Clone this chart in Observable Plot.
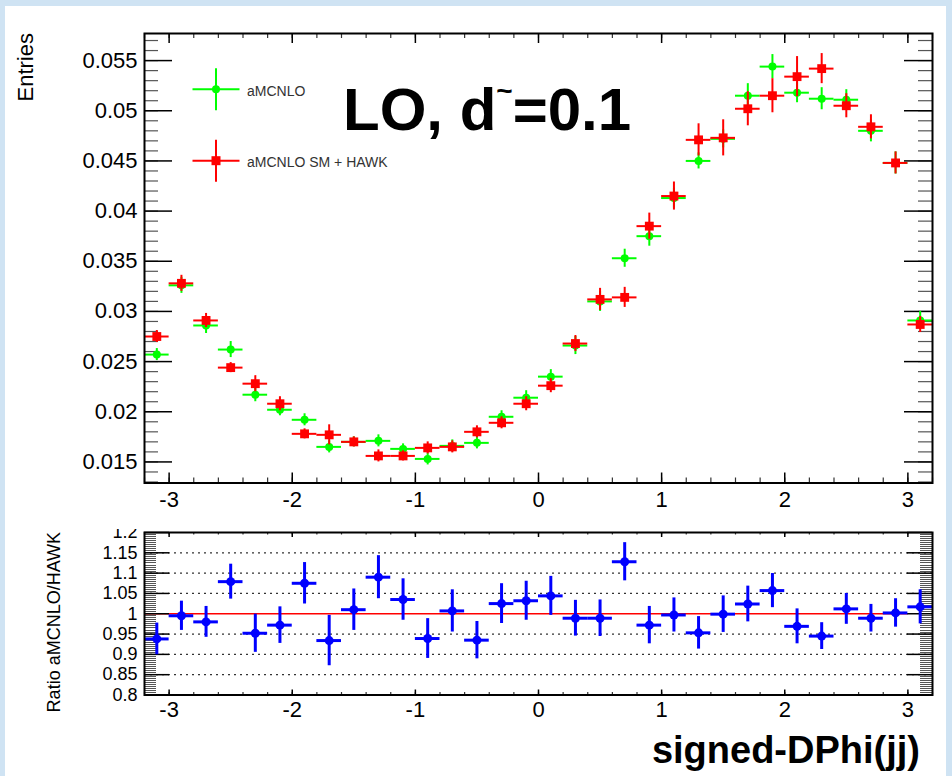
<!DOCTYPE html>
<html>
<head>
<meta charset="utf-8">
<script src="https://cdn.jsdelivr.net/npm/d3@7"></script>
<script src="https://cdn.jsdelivr.net/npm/@observablehq/plot@0.6"></script>
<style>
  html, body { margin: 0; padding: 0; background: #ffffff; }
  #canvas { position: relative; width: 952px; height: 776px; background: #cfe3f3; overflow: hidden;
            font-family: "Liberation Sans", Arial, Helvetica, sans-serif; }
  #pad { position: absolute; left: 5px; top: 6px; width: 941px; height: 770px; background: #ffffff; }
  #upper, #lower { position: absolute; left: 0; }
  #upper { top: 0; }
  #lower { top: 523px; }
  svg { overflow: hidden; }
</style>
</head>
<body>
<div id="canvas"><div id="pad"><div id="upper"></div><div id="lower"></div></div></div>
<script>
// signed Δφ(jj) bin centres (32 bins of width 0.2 between -3.2 and 3.2)
const binCenters = [-3.1, -2.9, -2.7, -2.5, -2.3, -2.1, -1.9, -1.7, -1.5, -1.3, -1.1, -0.9, -0.7, -0.5, -0.3, -0.1,
                     0.1, 0.3, 0.5, 0.7, 0.9, 1.1, 1.3, 1.5, 1.7, 1.9, 2.1, 2.3, 2.5, 2.7, 2.9, 3.1];
const binHalfWidth = 0.1;

// aMCNLO (normalised entries) and statistical errors
const amcnlo = [0.0257, 0.0326, 0.0286, 0.0262, 0.0217, 0.0202, 0.0192, 0.0165, 0.0170, 0.0171, 0.0163, 0.0153,
                0.0166, 0.0169, 0.0195, 0.0214, 0.0235, 0.0266, 0.0310, 0.0353, 0.0375, 0.0413, 0.0450, 0.0472,
                0.0515, 0.0544, 0.0518, 0.0512, 0.0511, 0.0480, 0.0448, 0.0291];
const amcnloErr = [0.0006, 0.0008, 0.0008, 0.0008, 0.0007, 0.0006, 0.0006, 0.0006, 0.0005, 0.0006, 0.0005, 0.0006,
                   0.0006, 0.0006, 0.0006, 0.0007, 0.0007, 0.0009, 0.0010, 0.0009, 0.0010, 0.0010, 0.0008, 0.0009,
                   0.0012, 0.0012, 0.0010, 0.0011, 0.0010, 0.0011, 0.0011, 0.0009];

// aMCNLO SM + HAWK (normalised entries) and statistical errors
const hawk = [0.0275, 0.0328, 0.0291, 0.0244, 0.0228, 0.0208, 0.0178, 0.0177, 0.0170, 0.0156, 0.0156, 0.0164,
              0.0165, 0.0180, 0.0189, 0.0208, 0.0226, 0.0268, 0.0312, 0.0314, 0.0385, 0.0415, 0.0471, 0.0473,
              0.0502, 0.0515, 0.0534, 0.0542, 0.0505, 0.0484, 0.0448, 0.0287];
const hawkErr = [0.0006, 0.0008, 0.0007, 0.0005, 0.0008, 0.0007, 0.0005, 0.0010, 0.0005, 0.0006, 0.0005, 0.0006,
                 0.0006, 0.0006, 0.0006, 0.0007, 0.0007, 0.0008, 0.0011, 0.0010, 0.0013, 0.0014, 0.0016, 0.0018,
                 0.0017, 0.0017, 0.0020, 0.0015, 0.0012, 0.0012, 0.0011, 0.0008];

// ratio aMCNLO / HAWK with errors
const ratio = [0.938, 0.995, 0.980, 1.079, 0.952, 0.972, 1.075, 0.934, 1.010, 1.090, 1.035, 0.939, 1.007, 0.935,
               1.025, 1.032, 1.044, 0.989, 0.989, 1.128, 0.972, 0.997, 0.953, 0.999, 1.024, 1.057, 0.969, 0.945,
               1.012, 0.989, 1.002, 1.017];
const ratioErr = [0.039, 0.036, 0.038, 0.043, 0.047, 0.045, 0.051, 0.062, 0.051, 0.053, 0.051, 0.049, 0.052, 0.046,
                  0.049, 0.048, 0.048, 0.044, 0.045, 0.047, 0.046, 0.042, 0.040, 0.045, 0.044, 0.042, 0.043, 0.033,
                  0.038, 0.034, 0.035, 0.042];

// axis ticks and labels
const xDomain = [-3.2, 3.2];
const xTicks = [-3, -2, -1, 0, 1, 2, 3];
const yTicksUpper = [0.015, 0.02, 0.025, 0.03, 0.035, 0.04, 0.045, 0.05, 0.055];
const yDomainUpper = [0.0129, 0.0577];
const yTicksRatio = [0.8, 0.85, 0.9, 0.95, 1, 1.05, 1.1, 1.15, 1.2];
const yDomainRatio = [0.8, 1.2];
const ratioGrid = [0.85, 0.9, 0.95, 1.05, 1.1, 1.15];
const ratioRefLine = [{y: 1, x1: -3.2, x2: 3.0}];

const legendEntries = [
  {label: "aMCNLO", color: "#00ff00", shape: "circle"},
  {label: "aMCNLO SM + HAWK", color: "#ff0000", shape: "square"}
];
const titleMain = "LO, d";
const titleTilde = "~";
const titleTail = "=0.1";
const yTitleUpper = "Entries";
const yTitleRatio = "Ratio aMCNLO/HAWK";
const xTitle = "signed-DPhi(jj)";

const rows = binCenters.map((c, i) => ({
  c, g: amcnlo[i], ge: amcnloErr[i], r: hawk[i], re: hawkErr[i], q: ratio[i], qe: ratioErr[i]
}));

const FONT = '"Liberation Sans", Arial, Helvetica, sans-serif';
const W = 941, mL = 139, mR = 14;
const FW = W - mL - mR;

// minor tick positions
const xMinor = d3.range(-32, 33, 2).map(k => k / 10);
const yMinorUpper = d3.range(13, 58).map(k => k / 1000);
const yMinorRatio = d3.range(160, 241).map(k => k / 200);

function frameTicks(FH, xMaj, xMin, yMaj, yMin, xMajor, xMinorT, yMajor, yMinorT, minorStyle) {
  const id = d => d;
  return [
    Plot.tickX(xMin, {x: id, insetTop: FH - xMinorT, stroke: "#333", strokeWidth: 1.2}),
    Plot.tickX(xMin, {x: id, insetBottom: FH - xMinorT, stroke: "#333", strokeWidth: 1.2}),
    Plot.tickX(xMaj, {x: id, insetTop: FH - xMajor, stroke: "#000", strokeWidth: 1.5}),
    Plot.tickX(xMaj, {x: id, insetBottom: FH - xMajor, stroke: "#000", strokeWidth: 1.5}),
    Plot.tickY(yMin, {y: id, insetRight: FW - yMinorT, ...minorStyle}),
    Plot.tickY(yMin, {y: id, insetLeft: FW - yMinorT, ...minorStyle}),
    Plot.tickY(yMaj, {y: id, insetRight: FW - yMajor, stroke: "#000", strokeWidth: 1.5}),
    Plot.tickY(yMaj, {y: id, insetLeft: FW - yMajor, stroke: "#000", strokeWidth: 1.5})
  ];
}

function errorCross(field, errField, color, width) {
  return [
    Plot.ruleY(rows, {y: field, x1: d => d.c - binHalfWidth, x2: d => d.c + binHalfWidth, stroke: color, strokeWidth: width}),
    Plot.ruleX(rows, {x: "c", y1: d => d[field] - d[errField], y2: d => d[field] + d[errField], stroke: color, strokeWidth: width})
  ];
}

// ---------- upper panel: distributions ----------
const H1 = 523, mT1 = 27, mB1 = 46.5;
const FH1 = H1 - mT1 - mB1;
const upper = Plot.plot({
  width: W, height: H1,
  marginLeft: mL, marginRight: mR, marginTop: mT1, marginBottom: mB1,
  style: {background: "white", color: "black", fontFamily: FONT, overflow: "hidden"},
  x: {domain: xDomain},
  y: {domain: yDomainUpper},
  marks: [
    ...frameTicks(FH1, xTicks, xMinor, yTicksUpper, yMinorUpper, 10, 5, 28, 14, {stroke: "#555", strokeWidth: 1.2}),
    Plot.axisX(xTicks, {anchor: "bottom", tickSize: 0, tickPadding: 8, fontSize: 22, tickFormat: d => String(d), label: null}),
    Plot.axisY(yTicksUpper, {anchor: "left", tickSize: 0, tickPadding: 7, fontSize: 22, tickFormat: d => String(d), label: null}),
    ...errorCross("g", "ge", "#00ff00", 2),
    Plot.dot(rows, {x: "c", y: "g", r: 4, fill: "#00ff00"}),
    ...errorCross("r", "re", "#ff0000", 2),
    Plot.dot(rows, {x: "c", y: "r", r: 5, symbol: "square", fill: "#ff0000"}),
    Plot.frame({stroke: "black", strokeWidth: 2})
  ]
});
document.getElementById("upper").appendChild(upper);

{
  const svg = d3.select(upper);
  // y-axis title
  svg.append("text").attr("transform", "translate(28,27) rotate(-90)")
    .attr("text-anchor", "end").attr("font-family", FONT).attr("font-size", 22)
    .attr("fill", "black").text(yTitleUpper);
  // legend
  const lg = svg.append("g").attr("text-anchor", "start");
  legendEntries.forEach((e, i) => {
    const cx = 211, cy = 83.3 + i * 71.4;
    lg.append("line").attr("x1", cx - 23.5).attr("x2", cx + 23.5).attr("y1", cy).attr("y2", cy)
      .attr("stroke", e.color).attr("stroke-width", 2);
    lg.append("line").attr("x1", cx).attr("x2", cx).attr("y1", cy - 21).attr("y2", cy + 21)
      .attr("stroke", e.color).attr("stroke-width", 2);
    if (e.shape === "circle") lg.append("circle").attr("cx", cx).attr("cy", cy).attr("r", 4).attr("fill", e.color);
    else lg.append("rect").attr("x", cx - 4.5).attr("y", cy - 4.5).attr("width", 9).attr("height", 9).attr("fill", e.color);
    lg.append("text").attr("x", 242).attr("y", cy + 6.5).attr("text-anchor", "start")
      .attr("font-family", FONT).attr("font-size", 14).attr("fill", "#333").text(e.label);
  });
  // big label
  const t = svg.append("text").attr("x", 338).attr("y", 124).attr("text-anchor", "start")
    .attr("font-family", FONT).attr("font-weight", "bold").attr("font-size", 60).attr("fill", "black");
  t.append("tspan").text(titleMain);
  t.append("tspan").attr("font-size", 28).attr("dy", -30).text(titleTilde);
  t.append("tspan").attr("font-size", 60).attr("dy", 30).text(titleTail);
}

// ---------- lower panel: ratio ----------
const H2 = 247, mT2 = 3, mB2 = 81.5;
const FH2 = H2 - mT2 - mB2;
const lower = Plot.plot({
  width: W, height: H2,
  marginLeft: mL, marginRight: mR, marginTop: mT2, marginBottom: mB2,
  style: {background: "white", color: "black", fontFamily: FONT, overflow: "hidden"},
  x: {domain: xDomain},
  y: {domain: yDomainRatio},
  marks: [
    Plot.ruleY(ratioGrid, {y: d => d, stroke: "#333", strokeWidth: 1.3, strokeDasharray: "2,4"}),
    Plot.ruleY(ratioRefLine, {y: "y", x1: "x1", x2: "x2", stroke: "#ff0000", strokeWidth: 1.5}),
    ...frameTicks(FH2, xTicks, xMinor, yTicksRatio, yMinorRatio, 5, 2.5, 25, 12,
                  {stroke: "#555", strokeWidth: 1, shapeRendering: "crispEdges"}),
    Plot.axisX(xTicks, {anchor: "bottom", tickSize: 0, tickPadding: 6, fontSize: 22, tickFormat: d => String(d), label: null}),
    Plot.axisY(yTicksRatio, {anchor: "left", tickSize: 0, tickPadding: 7, fontSize: 18, tickFormat: d => String(d), label: null}),
    ...errorCross("q", "qe", "#0000ff", 3),
    Plot.dot(rows, {x: "c", y: "q", r: 4.5, fill: "#0000ff"}),
    Plot.frame({stroke: "black", strokeWidth: 2})
  ]
});
document.getElementById("lower").appendChild(lower);

{
  const svg = d3.select(lower);
  svg.append("text").attr("transform", "translate(55,3) rotate(-90)")
    .attr("text-anchor", "end").attr("font-family", FONT).attr("font-size", 18)
    .attr("fill", "black").text(yTitleRatio);
  svg.append("text").attr("x", 915).attr("y", 234).attr("text-anchor", "end")
    .attr("font-family", FONT).attr("font-weight", "bold").attr("font-size", 38)
    .attr("fill", "black").text(xTitle);
}
</script>
</body>
</html>
